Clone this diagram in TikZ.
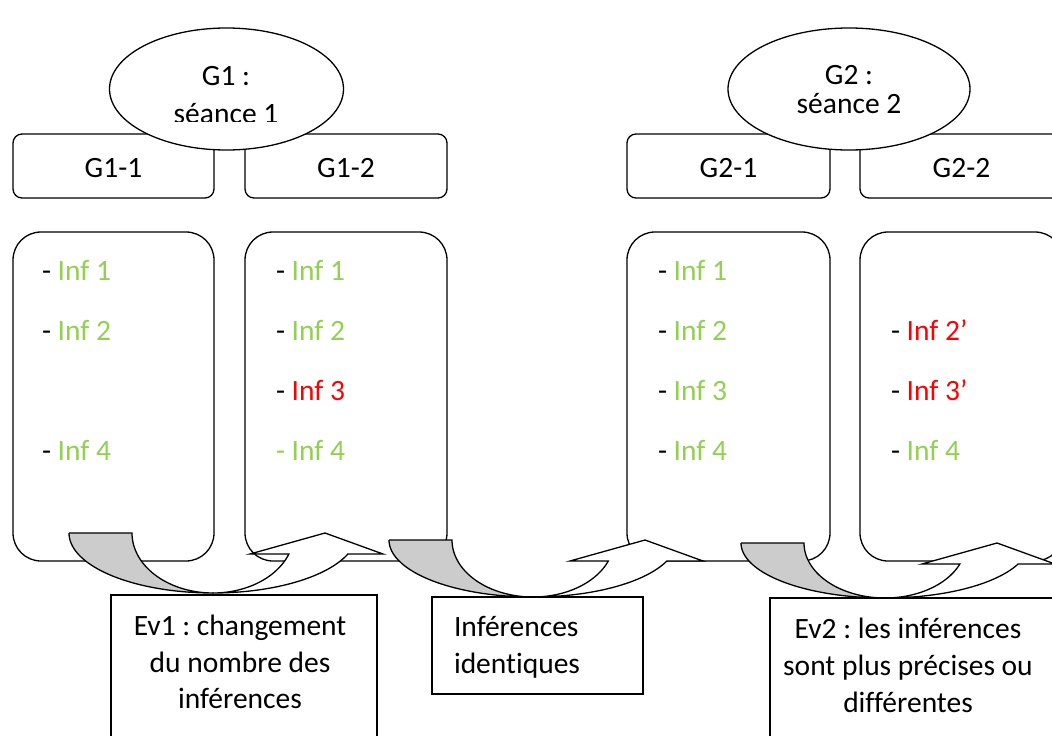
\documentclass[tikz,border=0pt]{standalone}
\usepackage{fontspec}
\setmainfont[Ligatures=NoCommon]{Carlito}
\usetikzlibrary{shapes.geometric}
\frenchspacing
\definecolor{infgreen}{RGB}{146,208,80}
\definecolor{infred}{RGB}{255,0,0}
\definecolor{arrowgray}{RGB}{204,204,204}
\tikzset{
  lw/.style={line width=1.3pt},
  tallbox/.style={lw, draw, fill=white, rounded corners=28pt, minimum height=329pt, inner sep=0pt, outer sep=0pt},
  headbox/.style={lw, draw, fill=white, rounded corners=9pt, minimum height=64pt, inner sep=0pt, outer sep=0pt},
  sess/.style={lw, draw, fill=white, ellipse, inner sep=0pt, outer sep=0pt},
  evbox/.style={lw, draw, fill=white, inner sep=0pt, outer sep=0pt},
  txt/.style={inner sep=0pt, outer sep=0pt, font=\fontsize{29.5}{36}\selectfont},
  ltxt/.style={txt, anchor=base west},
  ctxt/.style={txt, anchor=base},
}
% curved up arrow: #1 centre x, #2 top y, #3 vertical radius
\newcommand\curvedup[3]{%
  \pgfmathsetmacro\caphi{asin(21/#3)}%
  \filldraw[lw, fill=arrowgray, line join=miter]
    (#1-144,#2) -- (#1-81,#2)
    -- plot[domain=180:90, samples=40, variable=\t] ({#1+81*cos(\t)},{#2+#3*sin(\t)})
    -- plot[domain=90:180, samples=40, variable=\t] ({#1+144*cos(\t)},{#2+#3*sin(\t)})
    -- cycle;
  \filldraw[lw, fill=white, line join=miter]
    plot[domain=90:\caphi, samples=40, variable=\t] ({#1+81*cos(\t)},{#2+#3*sin(\t)})
    -- (#1+37,#2+21) -- (#1+112,#2) -- (#1+170,#2+21)
    -- plot[domain=\caphi:90, samples=40, variable=\t] ({#1+144*cos(\t)},{#2+#3*sin(\t)})
    -- cycle;
}
\begin{document}
\begin{tikzpicture}[x=1pt, y=-1pt]
\useasboundingbox (0,0) rectangle (1052,736);
\clip (0,0) rectangle (1052,736);

% tall boxes
\node[tallbox, minimum width=201pt] (t11) at (113.5,396.5) {};
\node[tallbox, minimum width=202pt] (t12) at (346,396.5) {};
\node[tallbox, minimum width=203pt] (t21) at (728.5,396.5) {};
\node[tallbox, minimum width=203pt] (t22) at (961.5,396.5) {};

% header boxes
\node[headbox, minimum width=201pt] (h11) at (113.5,166) {};
\node[headbox, minimum width=202pt] (h12) at (346,166) {};
\node[headbox, minimum width=203pt] (h21) at (728.5,166) {};
\node[headbox, minimum width=203pt] (h22) at (961.5,166) {};
\node[ctxt] (h11t) at (113.5,177) {G1-1};
\node[ctxt] (h12t) at (346,177) {G1-2};
\node[ctxt] (h21t) at (728.5,177) {G2-1};
\node[ctxt] (h22t) at (961.5,177) {G2-2};

% session ellipses
\node[sess, minimum width=234pt, minimum height=122pt] (g1) at (226.5,89) {};
\node[sess, minimum width=242pt, minimum height=122pt] (g2) at (849,89) {};
\node[ctxt] (g1a) at (226,85) {G1 :};
\begin{scope}
  \clip (100,95) rectangle (350,121);
  \node[ctxt] (g1b) at (226,123) {séance 1};
\end{scope}
\node[ctxt] (g2a) at (849,84) {G2 :};
\node[ctxt] (g2b) at (849,113) {séance 2};

% inference lists
\node[ltxt] (a1) at (42,280) {- \textcolor{infgreen}{Inf 1}};
\node[ltxt] (a2) at (42,340) {- \textcolor{infgreen}{Inf 2}};
\node[ltxt] (a4) at (42,460) {- \textcolor{infgreen}{Inf 4}};

\node[ltxt] (b1) at (276,280) {- \textcolor{infgreen}{Inf 1}};
\node[ltxt] (b2) at (276,340) {- \textcolor{infgreen}{Inf 2}};
\node[ltxt] (b3) at (276,400) {- \textcolor{infred}{Inf 3}};
\node[ltxt] (b4) at (276,460) {\textcolor{infgreen}{- Inf 4}};

\node[ltxt] (c1) at (658,280) {- \textcolor{infgreen}{Inf 1}};
\node[ltxt] (c2) at (658,340) {- \textcolor{infgreen}{Inf 2}};
\node[ltxt] (c3) at (658,400) {- \textcolor{infgreen}{Inf 3}};
\node[ltxt] (c4) at (658,460) {- \textcolor{infgreen}{Inf 4}};

\node[ltxt] (d2) at (891,340) {- \textcolor{infred}{Inf 2’}};
\node[ltxt] (d3) at (891,400) {- \textcolor{infred}{Inf 3’}};
\node[ltxt] (d4) at (891,460) {- \textcolor{infgreen}{Inf 4}};

% curved arrows
\curvedup{213}{533}{60}
\curvedup{533}{540}{57}
\curvedup{885}{543}{55}

% evolution boxes
\node[evbox, minimum width=266pt, minimum height=180pt, anchor=north west] (ev1) at (111,595) {};
\node[ctxt] (ev1a) at (240,635) {Ev1 : changement};
\node[ctxt] (ev1b) at (240,672) {du nombre des};
\node[ctxt] (ev1c) at (240,708) {inférences};

\node[evbox, minimum width=211pt, minimum height=97pt, anchor=north west] (id) at (432,597) {};
\node[ltxt] (ida) at (454,636) {Inférences};
\node[ltxt] (idb) at (454,673) {identiques};

\node[evbox, minimum width=300pt, minimum height=180pt, anchor=north west] (ev2) at (770,598) {};
\node[ctxt] (ev2a) at (908,638) {Ev2 : les inférences};
\node[ctxt] (ev2b) at (908,675) {sont plus précises ou};
\node[ctxt] (ev2c) at (908,712) {différentes};
\end{tikzpicture}
\end{document}
